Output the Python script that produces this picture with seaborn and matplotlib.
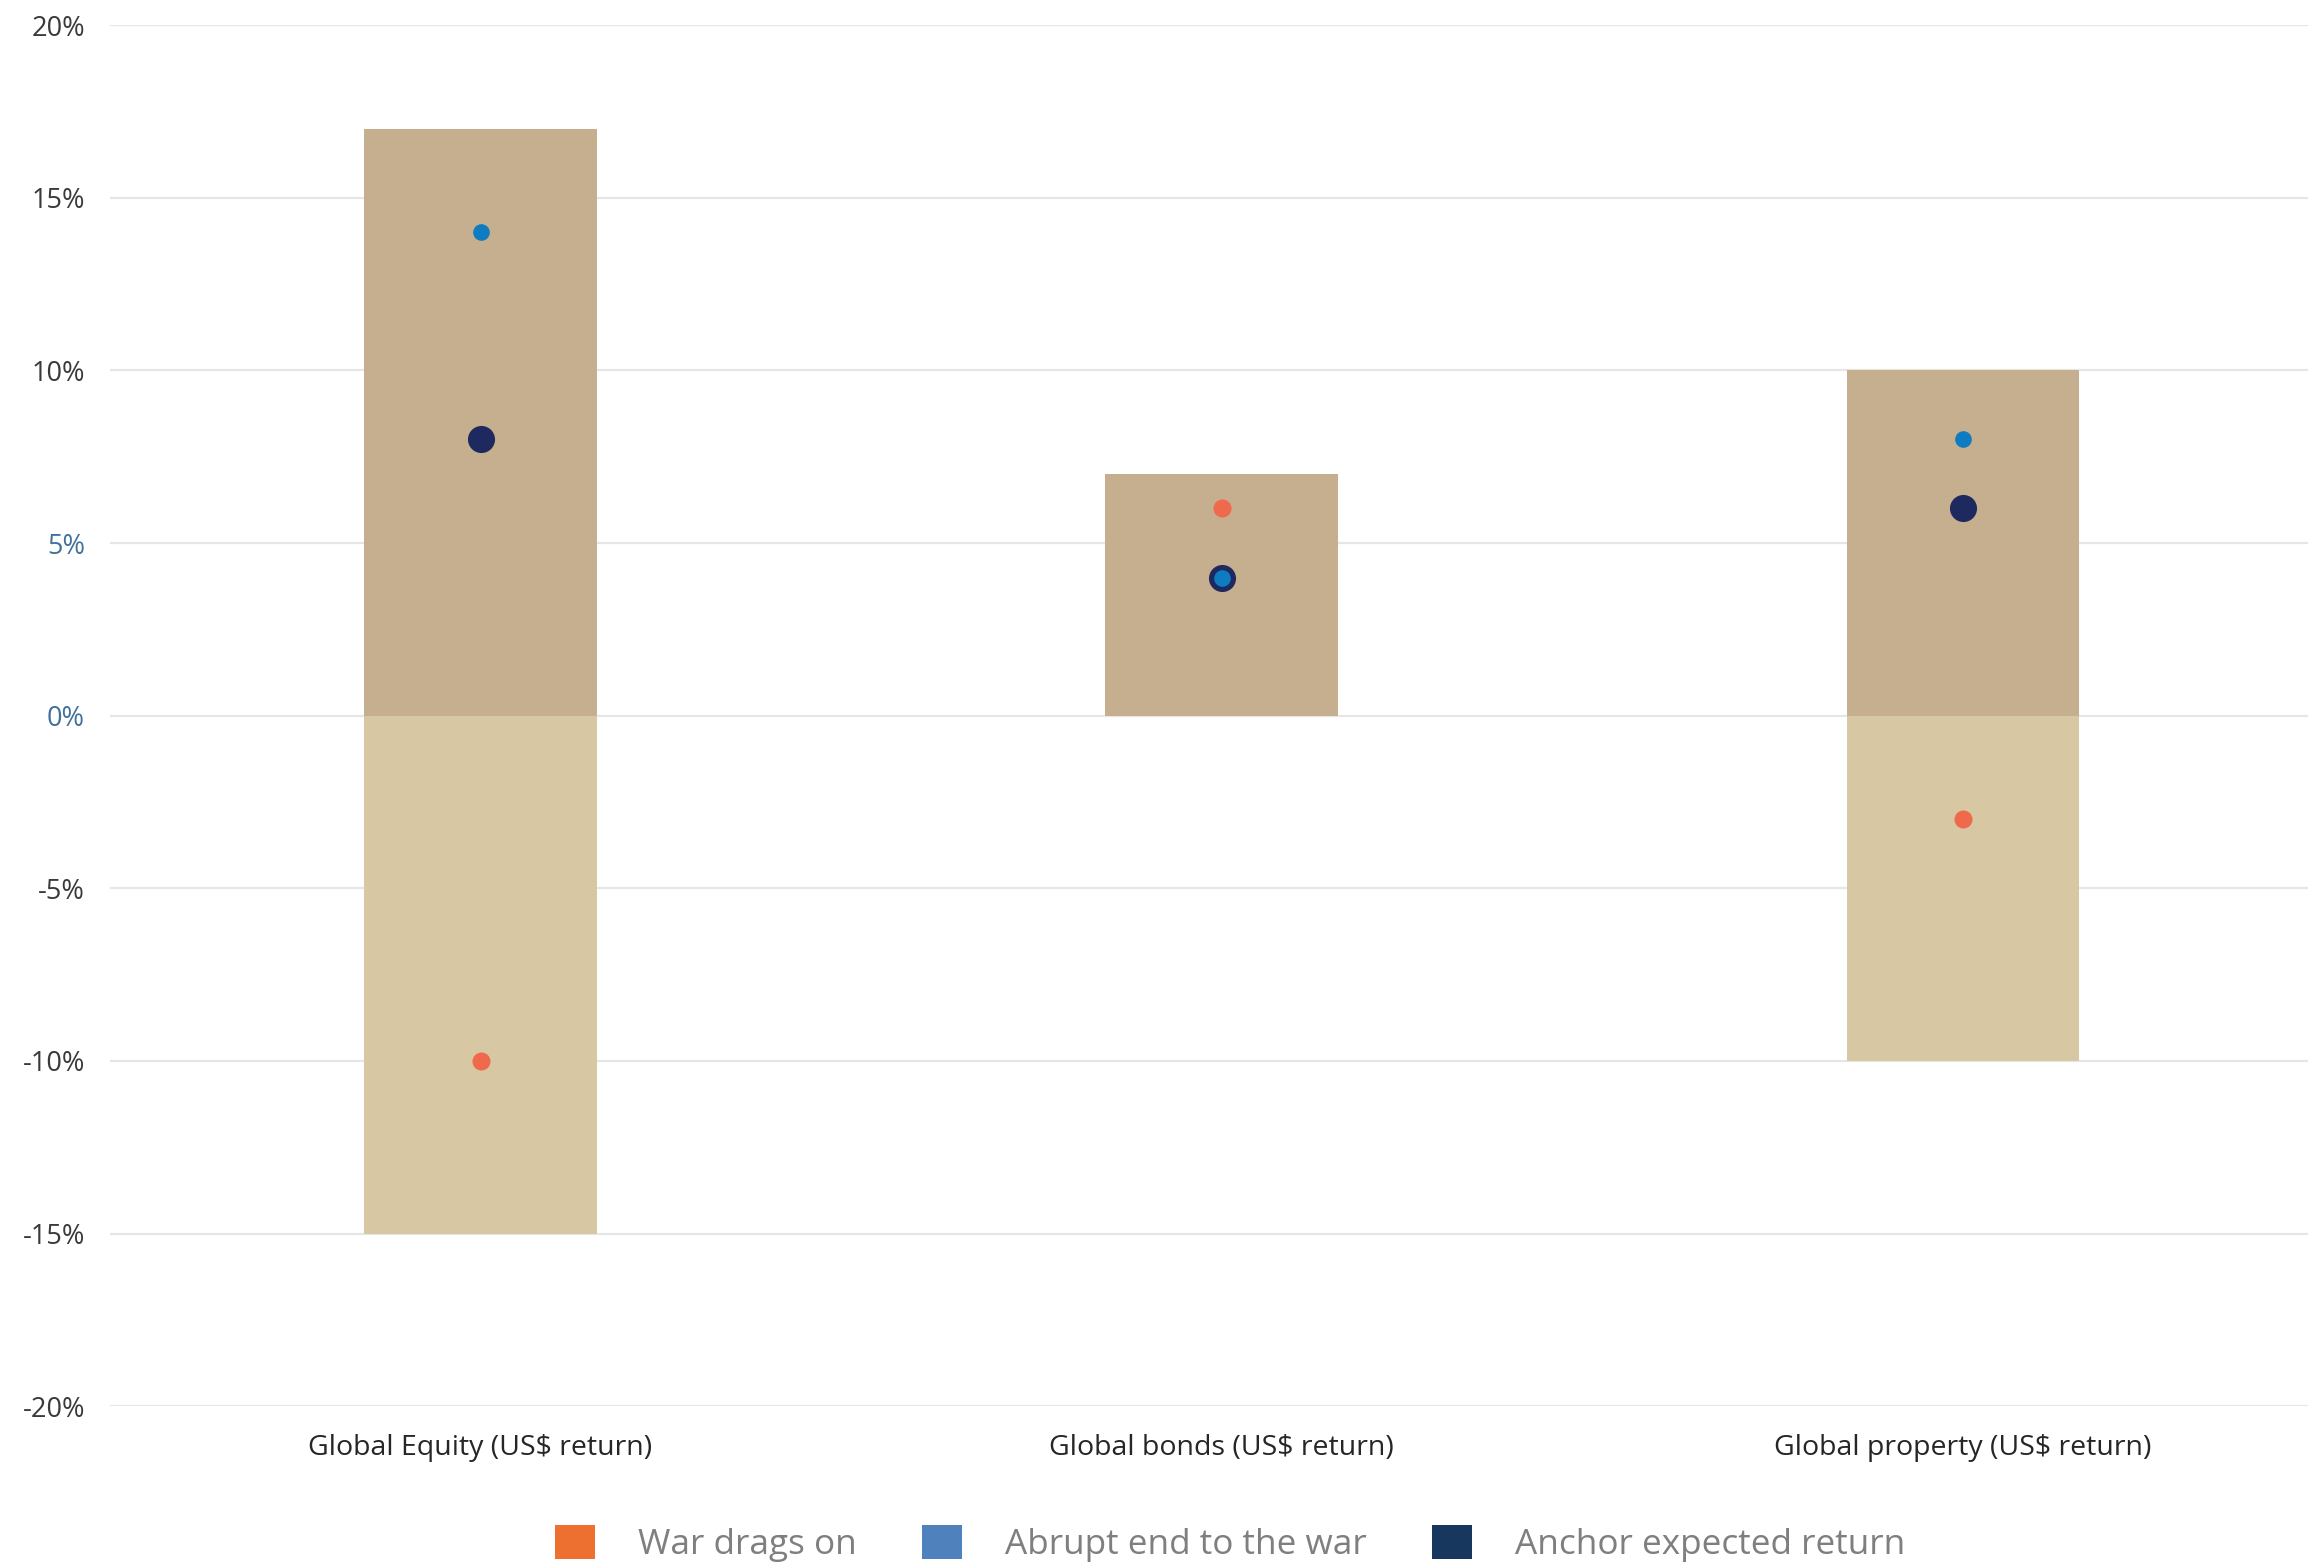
import matplotlib
matplotlib.use("Agg")
import matplotlib.pyplot as plt
import seaborn as sns
import pandas as pd
from matplotlib.patches import Patch

# ---- data ----
categories = ["Global Equity (US$ return)", "Global bonds (US$ return)", "Global property (US$ return)"]
range_upper = [17, 7, 10]     # positive part of range bar
range_lower = [-15, 0, -10]   # negative part of range bar
war_drags_on = [-10, 6, -3]
abrupt_end = [14, 4, 8]
anchor_expected = [8, 4, 6]
y_ticks = [-20, -15, -10, -5, 0, 5, 10, 15, 20]
y_tick_labels = ["-20%", "-15%", "-10%", "-5%", "0%", "5%", "10%", "15%", "20%"]
legend_labels = ["War drags on", "Abrupt end to the war", "Anchor expected return"]

sns.set_theme(style="white")
plt.rcParams['font.family'] = ['Open Sans', 'DejaVu Sans']

W, H = 2308, 1566
fig = plt.figure(figsize=(W / 100, H / 100), dpi=100)
ax = fig.add_axes([110 / W, 0.102, 1 - 110 / W, 0.882])

df = pd.DataFrame({"cat": categories, "upper": range_upper, "lower": range_lower,
                   "war": war_drags_on, "abrupt": abrupt_end, "anchor": anchor_expected})

sns.barplot(data=df, x="cat", y="upper", color="#C6AF8F", saturation=1, width=0.3135,
            linewidth=0, ax=ax, order=categories)
sns.barplot(data=df, x="cat", y="lower", color="#D8C7A3", saturation=1, width=0.3135,
            linewidth=0, ax=ax, order=categories)

sns.stripplot(data=df, x="cat", y="war", jitter=False, color="#EF6A4C", size=13,
              linewidth=0, ax=ax, order=categories, zorder=3)
sns.stripplot(data=df, x="cat", y="anchor", jitter=False, color="#1E2A5F", size=19.5,
              linewidth=0, ax=ax, order=categories, zorder=3)
sns.stripplot(data=df, x="cat", y="abrupt", jitter=False, color="#0E7CC1", size=12,
              linewidth=0, ax=ax, order=categories, zorder=4)

ax.set_xlim(-0.5, 2.466)
ax.set_ylim(-20, 20)
ax.set_yticks(y_ticks)
ax.set_yticklabels(y_tick_labels)
ax.set_xlabel("")
ax.set_ylabel("")
ax.set_axisbelow(True)
ax.yaxis.grid(True, color="#E6E6E6", linewidth=1.6)
ax.xaxis.grid(False)
for s in ax.spines.values():
    s.set_visible(False)

ax.tick_params(axis="y", length=0, pad=18, labelsize=19.5, labelcolor="#404040")
for lab, v in zip(ax.get_yticklabels(), y_ticks):
    lab.set_color("#41719C" if v in (0, 5) else "#3A3A3A")
ax.tick_params(axis="x", length=0, pad=20)
for lab in ax.get_xticklabels():
    lab.set_fontsize(20.5)
    lab.set_color("#262626")

handles = [Patch(facecolor="#ED7031", edgecolor="none"),
           Patch(facecolor="#4F81BD", edgecolor="none"),
           Patch(facecolor="#17375E", edgecolor="none")]
leg = fig.legend(handles, legend_labels, loc="center", bbox_to_anchor=(0.533, 0.0145), ncol=3,
                 frameon=False, handlelength=1.12, handleheight=1.12, handletextpad=1.23,
                 columnspacing=1.87,
                 prop={"family": ['Open Sans', 'DejaVu Sans'], "size": 25.3})
for t in leg.get_texts():
    t.set_color("#7F7F7F")

fig.savefig("out.png", dpi=100)
